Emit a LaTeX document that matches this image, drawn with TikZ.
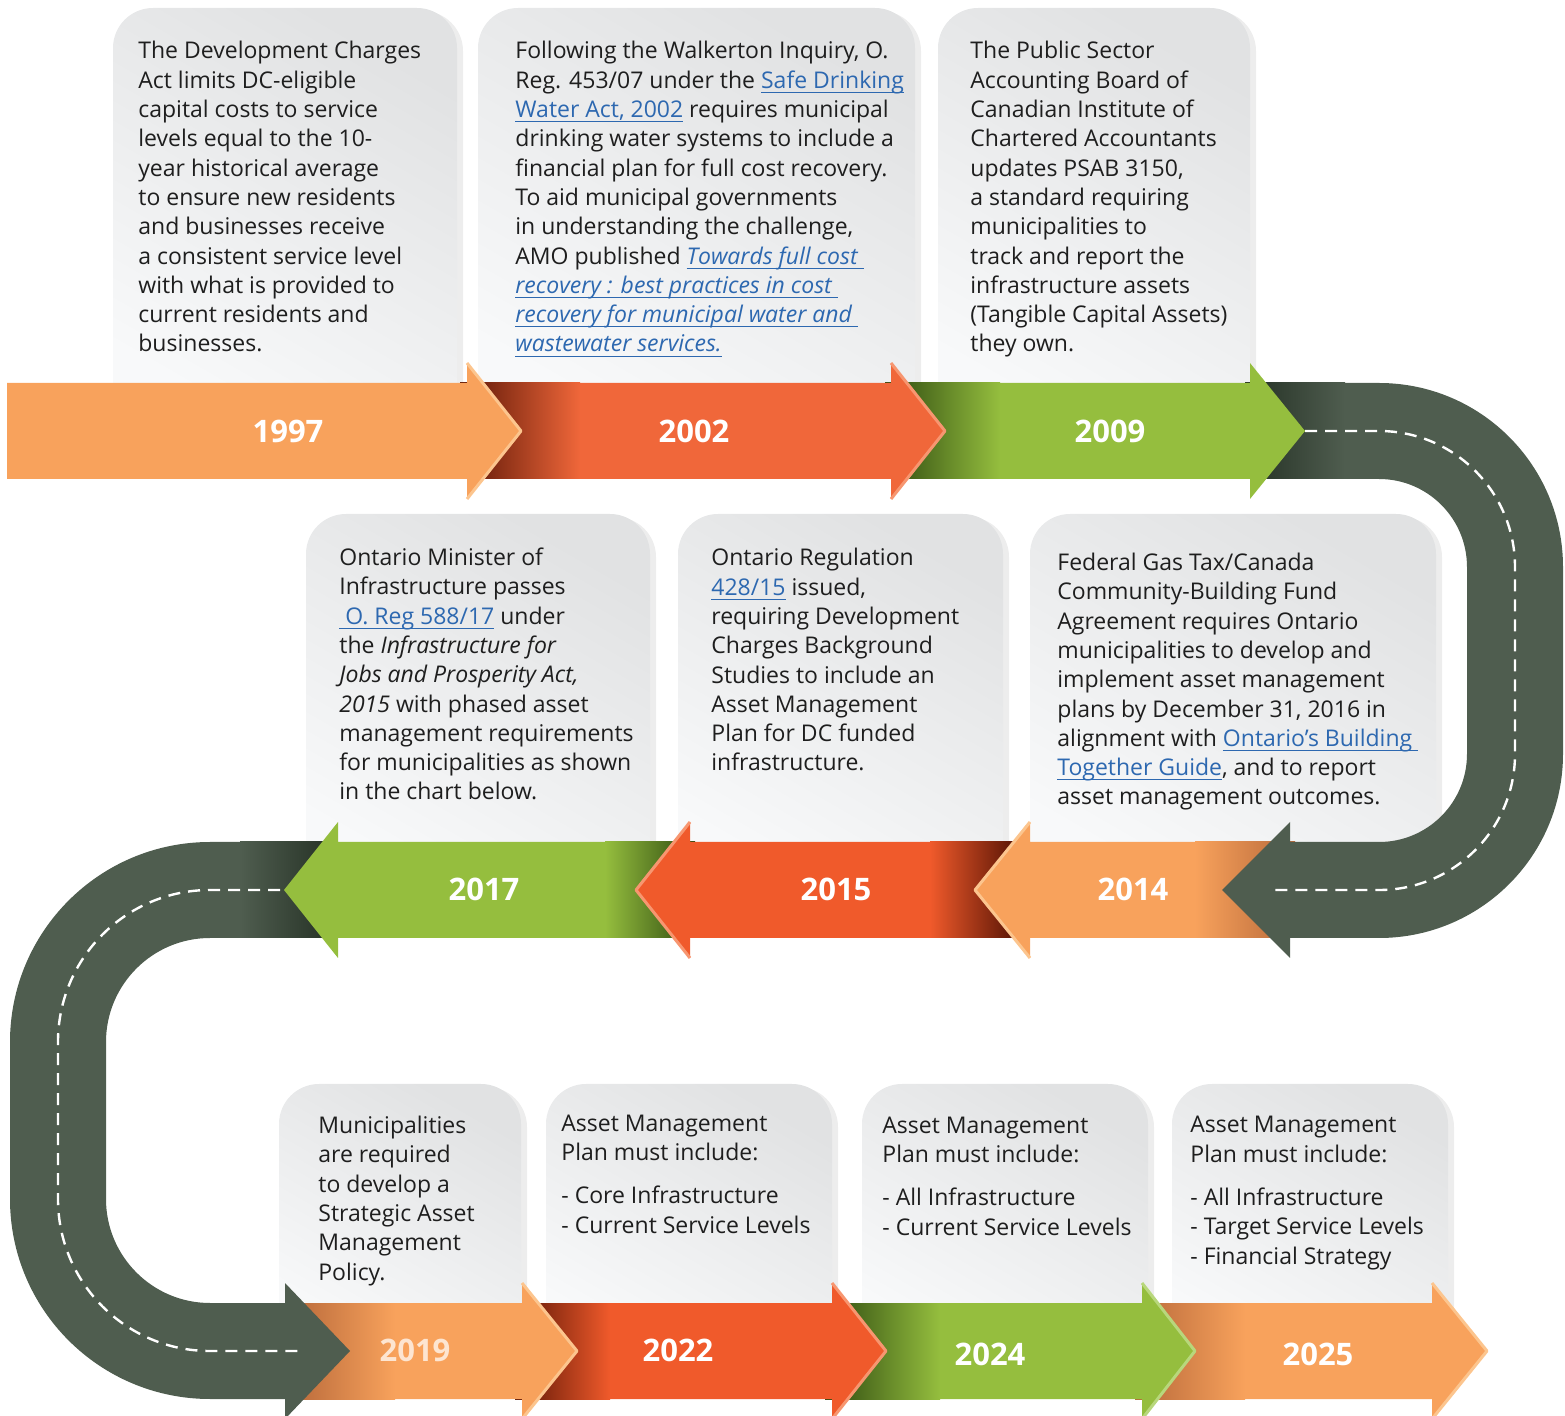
\documentclass[tikz,border=0pt]{standalone}
\usepackage{fontspec}
\setmainfont{Open Sans}
\usepackage{xcolor}

\definecolor{tlorange}{HTML}{F8A25C}
\definecolor{tlorangehi}{HTML}{FCC58E}
\definecolor{tlorangedk}{HTML}{B8693A}
\definecolor{tlred}{HTML}{F05A2B}
\definecolor{tlredtop}{HTML}{F0673A}
\definecolor{tlredhi}{HTML}{F79670}
\definecolor{tlreddk}{HTML}{5A1505}
\definecolor{tlgreen}{HTML}{95BE3E}
\definecolor{tlgreenhi}{HTML}{B8D77C}
\definecolor{tlgreendk}{HTML}{2E4A10}
\definecolor{road}{HTML}{4F5D4F}
\definecolor{roaddk}{HTML}{243024}
\definecolor{cardtop}{HTML}{E1E2E3}
\definecolor{cardbot}{HTML}{F8F9FA}
\definecolor{linkblue}{HTML}{2D68B0}
\definecolor{txt}{HTML}{1E1E1E}

\newsavebox{\lnkbox}
\newcommand{\lnk}[1]{{\color{linkblue}\sbox{\lnkbox}{#1}\rlap{\rule[-2.3pt]{\wd\lnkbox}{0.5pt}}\usebox{\lnkbox}}}

\tikzset{
  card/.style={rounded corners=20pt, top color=cardtop, bottom color=cardbot, shading angle=-30},
  cardshadow/.style={rounded corners=20pt, fill=black, opacity=0.07},
  cardtxt/.style={anchor=base west, inner sep=0pt, align=left, text=txt,
    font=\fontsize{11.5pt}{14.65pt}\selectfont},
  yearlbl/.style={text=white, font=\bfseries\fontsize{15.5pt}{18pt}\selectfont},
  headedge/.style={line width=1.5pt, line join=round},
  roaddash/.style={white, line width=1.2pt, dash pattern=on 6pt off 4pt}
}

\begin{document}
\begin{tikzpicture}[x=0.5pt,y=-0.5pt]
    \useasboundingbox (0,0) rectangle (1565,1416);
    \clip (0,0) rectangle (1565,1416);

    % cards
    \foreach \xa/\ya/\xb/\yb in {113/8/457/431, 478/8/915/431, 938/8/1250/431,
        306/514/650/890, 678/514/1003/890, 1030/514/1436/890,
        279/1084/521/1351, 546/1084/832/1351, 862/1084/1148/1351, 1172/1084/1448/1351}{
        \fill[cardshadow] (\xa+6,\ya+3) rectangle (\xb+6,\yb);
        \shade[card] (\xa,\ya) rectangle (\xb,\yb);
    }

    % row 3
    \fill[tlorange] (1135,1303) -- (1432,1303) -- (1432,1283) -- (1487,1351) -- (1432,1419) -- (1432,1399) -- (1135,1399) -- cycle;
    \shade[left color=tlorangedk, right color=tlorange] (1135,1303) rectangle (1245,1399);
    \draw[headedge, tlorangehi] (1432,1283) -- (1487,1351) -- (1432,1419);
    \fill[tlgreen] (825,1303) -- (1142,1303) -- (1142,1283) -- (1195,1351) -- (1142,1419) -- (1142,1399) -- (825,1399) -- cycle;
    \shade[left color=tlgreendk, right color=tlgreen] (825,1303) rectangle (940,1399);
    \draw[headedge, tlgreenhi] (1142,1283) -- (1195,1351) -- (1142,1419);
    \fill[tlred] (515,1303) -- (832,1303) -- (832,1283) -- (886,1351) -- (832,1419) -- (832,1399) -- (515,1399) -- cycle;
    \shade[left color=tlreddk, right color=tlred] (515,1303) rectangle (610,1399);
    \draw[headedge, tlredhi] (832,1283) -- (886,1351) -- (832,1419);
    \fill[tlorange] (290,1303) -- (522,1303) -- (522,1283) -- (577,1351) -- (522,1419) -- (522,1399) -- (290,1399) -- cycle;
    \shade[left color=tlorangedk, right color=tlorange] (290,1303) rectangle (395,1399);
    \draw[headedge, tlorangehi] (522,1283) -- (577,1351) -- (522,1419);

    % left turn
    \fill[road] (335,842) -- (210,842) arc[start angle=-90, end angle=-180, radius=200]
        -- (10,1199) arc[start angle=180, end angle=90, radius=200]
        -- (285,1399) -- (285,1419) -- (350,1351) -- (285,1283) -- (285,1303)
        -- (210,1303) arc[start angle=90, end angle=180, radius=104]
        -- (106,1042) arc[start angle=180, end angle=270, radius=104]
        -- (335,938) -- cycle;
    \shade[left color=road, right color=roaddk] (240,842) rectangle (335,938);
    \draw[roaddash] (280,890) -- (210,890) arc[start angle=-90, end angle=-180, radius=152]
        -- (58,1199) arc[start angle=180, end angle=90, radius=152] -- (302,1351);

    % row 2
    \fill[tlgreen] (695,842) -- (338,842) -- (338,822) -- (284,890) -- (338,958) -- (338,938) -- (695,938) -- cycle;
    \shade[left color=tlgreen, right color=tlgreendk] (605,842) rectangle (695,938);
    \fill[tlred] (1015,842) -- (690,842) -- (690,822) -- (636,890) -- (690,958) -- (690,938) -- (1015,938) -- cycle;
    \shade[left color=tlred, right color=tlreddk] (930,842) rectangle (1015,938);
    \draw[headedge, tlredhi] (690,822) -- (636,890) -- (690,958);
    \fill[tlorange] (1295,842) -- (1030,842) -- (1030,822) -- (975,890) -- (1030,958) -- (1030,938) -- (1295,938) -- cycle;
    \shade[left color=tlorange, right color=tlorangedk] (1195,842) rectangle (1295,938);
    \draw[headedge, tlorangehi] (1030,822) -- (975,890) -- (1030,958);

    % right turn
    \fill[road] (1245,383) -- (1379,383) arc[start angle=-90, end angle=0, radius=184]
        -- (1563,754) arc[start angle=0, end angle=90, radius=184]
        -- (1290,938) -- (1290,958) -- (1222,890) -- (1290,822) -- (1290,842)
        -- (1379,842) arc[start angle=90, end angle=0, radius=88]
        -- (1467,567) arc[start angle=0, end angle=-90, radius=88]
        -- (1245,479) -- cycle;
    \shade[left color=roaddk, right color=road] (1245,383) rectangle (1345,479);
    \draw[roaddash] (1305,431) -- (1379,431) arc[start angle=-90, end angle=0, radius=136]
        -- (1515,754) arc[start angle=0, end angle=90, radius=136] -- (1270,890);

    % row 1
    \fill[tlgreen] (885,383) -- (1250,383) -- (1250,363) -- (1305,431) -- (1250,499) -- (1250,479) -- (885,479) -- cycle;
    \shade[left color=tlgreendk, right color=tlgreen] (885,383) rectangle (1000,479);
    \fill[tlredtop] (460,383) -- (891,383) -- (891,363) -- (945,431) -- (891,499) -- (891,479) -- (460,479) -- cycle;
    \shade[left color=tlreddk, right color=tlredtop] (460,383) rectangle (580,479);
    \draw[headedge, tlredhi] (891,363) -- (945,431) -- (891,499);
    \fill[tlorange] (7,383) -- (467,383) -- (467,363) -- (521,431) -- (467,499) -- (467,479) -- (7,479) -- cycle;
    \draw[headedge, tlorangehi] (467,363) -- (521,431) -- (467,499);

    % years
    \node[yearlbl] (y1997) at (288,431) {1997};
    \node[yearlbl] (y2002) at (694,431) {2002};
    \node[yearlbl] (y2009) at (1110,431) {2009};
    \node[yearlbl] (y2017) at (484,889) {2017};
    \node[yearlbl] (y2015) at (836,889) {2015};
    \node[yearlbl] (y2014) at (1133,889) {2014};
    \node[yearlbl, text=white!72!tlorange] (y2019) at (415,1350) {2019};
    \node[yearlbl] (y2022) at (678,1350) {2022};
    \node[yearlbl] (y2024) at (990,1354) {2024};
    \node[yearlbl] (y2025) at (1318,1354) {2025};

    % card texts (placed at the baseline of their last line)
    \node[cardtxt] (t1997) at (138,352) {The Development Charges\\Act limits DC-eligible\\capital costs to service\\levels equal to the 10-\\year historical average\\to ensure new residents\\and businesses receive\\a consistent service level\\with what is provided to\\current residents and\\businesses.};
    \node[cardtxt] (t2002) at (515,352) {Following the Walkerton Inquiry, O.\\Reg. 453/07 under the \lnk{Safe Drinking}\\\lnk{Water Act, 2002} requires municipal\\drinking water systems to include a\\financial plan for full cost recovery.\\To aid municipal governments\\in understanding the challenge,\\AMO published \lnk{\itshape Towards full cost }\\\lnk{\itshape recovery : best practices in cost }\\\lnk{\itshape recovery for municipal water and }\\\lnk{\itshape wastewater services.}};
    \node[cardtxt] (t2009) at (970,352) {The Public Sector\\Accounting Board of\\Canadian Institute of\\Chartered Accountants\\updates PSAB 3150,\\a standard requiring\\municipalities to\\track and report the\\infrastructure assets\\(Tangible Capital Assets)\\they own.};
    \node[cardtxt] (t2017) at (339,800) {Ontario Minister of\\Infrastructure passes\\\lnk{\ O. Reg 588/17} under\\the \textit{Infrastructure for}\\\textit{Jobs and Prosperity Act,}\\\textit{2015} with phased asset\\management requirements\\for municipalities as shown\\in the chart below.};
    \node[cardtxt] (t2015) at (711,771) {Ontario Regulation\\\lnk{428/15} issued,\\requiring Development\\Charges Background\\Studies to include an\\Asset Management\\Plan for DC funded\\infrastructure.};
    \node[cardtxt] (t2014) at (1057,805) {Federal Gas Tax/Canada\\Community-Building Fund\\Agreement requires Ontario\\municipalities to develop and\\implement asset management\\plans by December 31, 2016 in\\alignment with \lnk{Ontario’s Building }\\\lnk{Together Guide}, and to report\\asset management outcomes.};
    \node[cardtxt] (t2019) at (318,1280) {Municipalities\\are required\\to develop a\\Strategic Asset\\Management\\Policy.};
    \node[cardtxt] (t2022) at (561,1233) {Asset Management\\Plan must include:\\[7pt]- Core Infrastructure\\- Current Service Levels};
    \node[cardtxt] (t2024) at (882,1235) {Asset Management\\Plan must include:\\[7pt]- All Infrastructure\\- Current Service Levels};
    \node[cardtxt] (t2025) at (1190,1264) {Asset Management\\Plan must include:\\[7pt]- All Infrastructure\\- Target Service Levels\\- Financial Strategy};
\end{tikzpicture}
\end{document}
